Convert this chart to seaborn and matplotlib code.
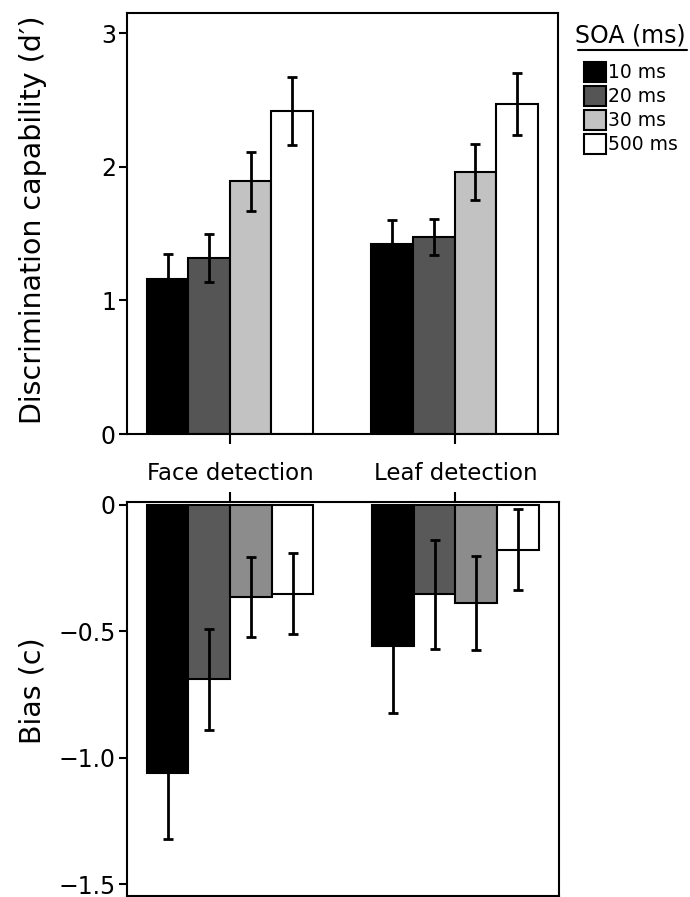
import numpy as np
import pandas as pd
import matplotlib
matplotlib.use("Agg")
import matplotlib.pyplot as plt
import seaborn as sns
from matplotlib.patches import Patch
from matplotlib.lines import Line2D

# ---- data -------------------------------------------------------------
tasks = ["Face detection", "Leaf detection"]
soa_levels = ["10 ms", "20 ms", "30 ms", "500 ms"]

dprime_face = [1.16, 1.32, 1.89, 2.415]
dprime_leaf = [1.42, 1.475, 1.96, 2.47]
dprime_err_face = [0.19, 0.18, 0.22, 0.255]
dprime_err_leaf = [0.18, 0.135, 0.21, 0.23]

bias_face = [-1.06, -0.69, -0.366, -0.352]
bias_leaf = [-0.56, -0.355, -0.39, -0.178]
bias_err_face = [0.26, 0.20, 0.157, 0.161]
bias_err_leaf = [0.263, 0.217, 0.186, 0.159]

dprime_ticks = [0, 1, 2, 3]
bias_ticks = [0, -0.5, -1.0, -1.5]
bias_tick_labels = ["0", "\u22120.5", "\u22121.0", "\u22121.5"]

top_colors = ["#000000", "#555555", "#c2c2c2", "#ffffff"]
bottom_colors = ["#000000", "#595959", "#8c8c8c", "#ffffff"]


def long_table(face, leaf, face_err, leaf_err):
    rows = []
    for task, vals, errs in ((tasks[0], face, face_err), (tasks[1], leaf, leaf_err)):
        for soa, v, e in zip(soa_levels, vals, errs):
            rows.append({"task": task, "soa": soa, "value": v, "err": e})
    return pd.DataFrame(rows)


df_d = long_table(dprime_face, dprime_leaf, dprime_err_face, dprime_err_leaf)
df_c = long_table(bias_face, bias_leaf, bias_err_face, bias_err_leaf)

# ---- style ------------------------------------------------------------
sns.set_style("ticks")
plt.rcParams.update({
    "font.family": ["DejaVu Sans"],
    "axes.linewidth": 1.5,
    "axes.edgecolor": "black",
    "axes.labelcolor": "black",
    "text.color": "black",
    "xtick.color": "black",
    "ytick.color": "black",
})

W, H = 690, 897
fig = plt.figure(figsize=(W / 100, H / 100), dpi=100)


def frac_rect(left, top, right, bottom):
    return [left / W, 1 - bottom / H, (right - left) / W, (bottom - top) / H]


ax1 = fig.add_axes(frac_rect(127, 13, 558, 434))
ax2 = fig.add_axes(frac_rect(127, 502, 559, 895.5))

XLIM = (-0.458, 1.46)


def draw_bars(ax, df, colors):
    sns.barplot(data=df, x="task", y="value", hue="soa", order=tasks,
                hue_order=soa_levels, palette=colors, errorbar=None,
                width=0.74, edgecolor="black", linewidth=1.5, saturation=1,
                legend=False, ax=ax)
    for soa, cont in zip(soa_levels, ax.containers):
        sub = df[df["soa"] == soa].set_index("task").loc[tasks]
        xs = [b.get_x() + b.get_width() / 2 for b in cont]
        ax.errorbar(xs, sub["value"].values, yerr=sub["err"].values,
                    fmt="none", ecolor="black", elinewidth=2.0,
                    capsize=3.8, capthick=2.0, zorder=5)
    ax.set_xlim(*XLIM)
    ax.set_xlabel("")
    for s in ax.spines.values():
        s.set_linewidth(1.5)
        s.set_edgecolor("black")
        s.set_visible(True)


# top panel: discrimination capability
draw_bars(ax1, df_d, top_colors)
ax1.set_ylim(0, 3.15)
ax1.set_yticks(dprime_ticks)
ax1.set_yticklabels([str(t) for t in dprime_ticks])
ax1.set_xticks([0, 1])
ax1.set_xticklabels(["", ""])
ax1.tick_params(axis="x", direction="out", length=7, width=1.5)
ax1.tick_params(axis="y", direction="out", length=6, width=1.5,
                labelsize=17, pad=2)
ax1.set_ylabel("Discrimination capability (d\u2032)", fontsize=20.5)
ax1.yaxis.set_label_coords(-0.186, 0.508)

# bottom panel: response bias
draw_bars(ax2, df_c, bottom_colors)
ax2.set_ylim(-1.545, 0.0103)
ax2.set_yticks(bias_ticks)
ax2.set_yticklabels(bias_tick_labels)
ax2.xaxis.tick_top()
ax2.set_xticks([0, 1])
ax2.set_xticklabels(tasks)
ax2.tick_params(axis="x", direction="out", length=7, width=1.5,
                labelsize=16.5, pad=5)
ax2.tick_params(axis="y", direction="out", length=6, width=1.5,
                labelsize=17, pad=2)
ax2.set_ylabel("Bias (c)", fontsize=20.5)
ax2.yaxis.set_label_coords(-0.186, 0.52)

# legend
handles = [Patch(facecolor=c, edgecolor="black", linewidth=1.5, label=l)
           for c, l in zip(top_colors, soa_levels)]
fig.legend(handles=handles, loc="upper left",
           bbox_to_anchor=(584 / W, 1 - 62 / H), frameon=False,
           fontsize=13.5, handlelength=1.15, handleheight=1.25,
           handletextpad=0.15, labelspacing=0.2, borderpad=0,
           borderaxespad=0)
fig.text(575 / W, 1 - 42 / H, "SOA (ms)", fontsize=17, va="baseline",
         ha="left")
fig.add_artist(Line2D([578 / W, 687 / W], [1 - 50 / H, 1 - 50 / H],
                      transform=fig.transFigure, color="black", lw=1.5))

fig.savefig("out.png", dpi=100)
